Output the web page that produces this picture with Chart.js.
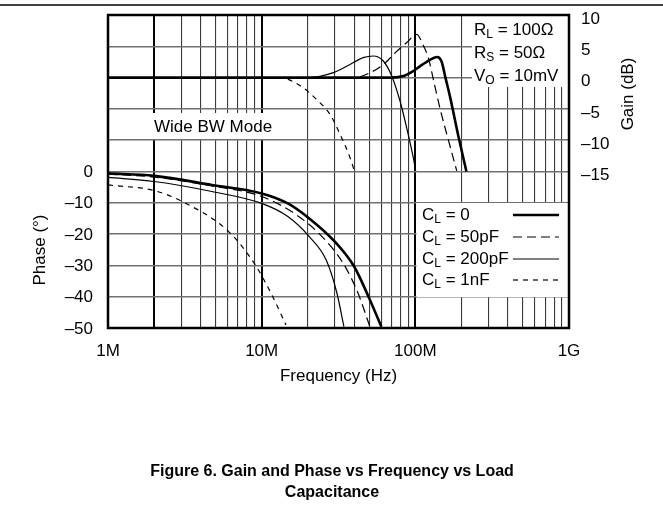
<!DOCTYPE html>
<html>
<head>
<meta charset="utf-8">
<script src="https://cdn.jsdelivr.net/npm/chart.js@4.4.0/dist/chart.umd.min.js"></script>
<style>
html, body { margin: 0; padding: 0; background: #fff; }
</style>
</head>
<body>
<canvas id="grafico" width="663" height="522"></canvas>
<script>
// DATOS (frecuencia en MHz)
const freqTicks = [1, 10, 100, 1000];
const freqLabels = ["1M", "10M", "100M", "1G"];
const phaseTicks = [0, -10, -20, -30, -40, -50];
const gainTicks = [10, 5, 0, -5, -10, -15];

// Ganancia (dB)
const gainFreq0 = [1, 30, 70, 85, 95, 107, 124, 139, 148, 157, 168, 190, 215];
const gain0 = [0, 0, 0, 0.3, 0.9, 1.8, 2.8, 3.3, 2.6, 0, -3, -9.2, -15];
const gainFreq50p = [1, 40, 50, 62, 75, 88, 102, 112, 122, 131, 145, 165, 186];
const gain50p = [0, 0, 0.7, 2.1, 4.1, 5.6, 6.9, 5.3, 3.0, -0.3, -5, -10.2, -14.9];
const gainFreq200p = [1, 20, 29.3, 37.6, 45.8, 53.3, 61.9, 70.2, 79.4, 87.8, 97, 100.5];
const gain200p = [0, 0, 0.8, 2.1, 3.2, 3.45, 2.65, 0.26, -3.7, -8, -12.8, -14.9];
const gainFreq1n = [1, 13.2, 17.8, 22.8, 27.9, 32.3, 37.6, 40.1];
const gain1n = [0, 0, -1.3, -3.5, -5.9, -9, -12.8, -14.9];

// Fase (grados)
const phaseFreq0 = [1, 2, 4.74, 10, 14.8, 20.4, 29.9, 39.8, 49.6, 60.1];
const phase0 = [-0.6, -1.4, -4.3, -7, -10.2, -15, -22.4, -30.2, -40, -49.6];
const phaseFreq50p = [1, 2, 4.74, 10, 16.9, 24.7, 33.9, 42.4, 50.6];
const phase50p = [-0.8, -1.8, -4.6, -8, -13.9, -20.8, -29.3, -38.9, -49.6];
const phaseFreq200p = [1, 2, 4.74, 10, 14.8, 20.4, 26.3, 30.9, 34.3];
const phase200p = [-1.9, -3.2, -6.4, -10.2, -14.4, -20.8, -28.3, -38.9, -49.6];
const phaseFreq1n = [1, 2, 3.04, 6.1, 8.94, 11.5, 14.4];
const phase1n = [-4.3, -6.1, -9.6, -19.2, -29.3, -38.9, -49];

const legendNames = ["0", "50pF", "200pF", "1nF"];

var FAM = "'Liberation Sans', Arial, sans-serif";
var F17 = "17px " + FAM;

// estilos de línea por serie: grueso, guiones largos, fino, guiones cortos
var estilos = [
    { width: 2.6, dash: [] },
    { width: 1.2, dash: [9, 5] },
    { width: 1.2, dash: [] },
    { width: 1.2, dash: [5, 5] }
];

function pts(fs, vs) {
    return fs.map(function (f, i) { return { x: f, y: vs[i] }; });
}

function serie(fs, vs, eje, n) {
    return {
        data: pts(fs, vs),
        yAxisID: eje,
        borderColor: "#000",
        borderWidth: estilos[n].width,
        borderDash: estilos[n].dash,
        pointRadius: 0,
        fill: false,
        cubicInterpolationMode: "monotone"
    };
}

function dash(v) {
    return v < 0 ? "\u2013" + Math.abs(v) : String(v);
}

// sin relleno extra de las etiquetas, el área queda donde se pide
function fijaEje(ancho) {
    return function (s) {
        s.width = ancho;
        s.paddingTop = 0;
        s.paddingBottom = 0;
    };
}

// texto con subíndice (C_L, R_S ...)
function textSub(ctx, x, y, main, sub, rest) {
    ctx.font = F17;
    ctx.fillText(main, x, y);
    x += ctx.measureText(main).width;
    ctx.font = "12px " + FAM;
    ctx.fillText(sub, x, y + 5);
    x += ctx.measureText(sub).width;
    ctx.font = F17;
    ctx.fillText(rest, x, y);
    return x + ctx.measureText(rest).width;
}

// cajas blancas sobre la rejilla
var cajas = {
    id: "cajas",
    beforeDatasetsDraw: function (chart) {
        var ctx = chart.ctx;
        ctx.save();
        ctx.fillStyle = "#fff";
        ctx.fillRect(472, 16, 96, 71);     // R_L, R_S, V_O
        ctx.fillRect(150, 113, 132, 26);   // Wide BW Mode
        ctx.fillRect(416.5, 203, 151.5, 94); // leyenda
        ctx.restore();
    },
    afterDraw: function (chart) {
        var ctx = chart.ctx;
        var a = chart.chartArea;
        ctx.save();
        // marco
        ctx.strokeStyle = "#000";
        ctx.lineWidth = 2.5;
        ctx.strokeRect(a.left, a.top, a.right - a.left, a.bottom - a.top);
        // línea superior de la página
        ctx.lineWidth = 1.5;
        ctx.beginPath();
        ctx.moveTo(0, 5);
        ctx.lineTo(663, 5);
        ctx.stroke();

        ctx.fillStyle = "#000";
        ctx.textBaseline = "middle";
        ctx.textAlign = "left";
        ctx.font = F17;
        ctx.fillText("Wide BW Mode", 154, 127);

        textSub(ctx, 474, 30, "R", "L", " = 100\u03A9");
        textSub(ctx, 474, 53, "R", "S", " = 50\u03A9");
        textSub(ctx, 474, 76, "V", "O", " = 10mV");

        // leyenda
        var filas = [215, 237, 259, 280];
        for (var i = 0; i < 4; i++) {
            textSub(ctx, 422, filas[i], "C", "L", " = " + legendNames[i]);
            ctx.lineWidth = estilos[i].width;
            ctx.setLineDash(estilos[i].dash);
            ctx.beginPath();
            ctx.moveTo(513, filas[i]);
            ctx.lineTo(559, filas[i]);
            ctx.stroke();
        }
        ctx.setLineDash([]);

        // títulos de ejes
        ctx.textAlign = "center";
        ctx.font = F17;
        ctx.fillText("Frequency (Hz)", (a.left + a.right) / 2, 376);
        ctx.save();
        ctx.translate(40, 250);
        ctx.rotate(-Math.PI / 2);
        ctx.fillText("Phase (\u00B0)", 0, 0);
        ctx.restore();
        ctx.save();
        ctx.translate(628, 94);
        ctx.rotate(-Math.PI / 2);
        ctx.fillText("Gain (dB)", 0, 0);
        ctx.restore();

        ctx.font = "bold 16px " + FAM;
        ctx.fillText("Figure 6. Gain and Phase vs Frequency vs Load", 332, 472);
        ctx.fillText("Capacitance", 332, 493);
        ctx.restore();
    }
};

var config = {
    type: "line",
    data: {
        datasets: [
            serie(gainFreq0, gain0, "yG", 0),
            serie(gainFreq50p, gain50p, "yG", 1),
            serie(gainFreq200p, gain200p, "yG", 2),
            serie(gainFreq1n, gain1n, "yG", 3),
            serie(phaseFreq0, phase0, "yP", 0),
            serie(phaseFreq50p, phase50p, "yP", 1),
            serie(phaseFreq200p, phase200p, "yP", 2),
            serie(phaseFreq1n, phase1n, "yP", 3)
        ]
    },
    options: {
        responsive: false,
        animation: false,
        layout: { padding: { top: 15, left: 0, right: 0, bottom: 134 } },
        plugins: { legend: { display: false }, tooltip: { enabled: false } },
        scales: {
            x: {
                type: "logarithmic",
                min: 1,
                max: 1000,
                afterBuildTicks: function (scale) {
                    var t = [];
                    var d, k;
                    for (d = 1; d < 1000; d *= 10) {
                        for (k = 1; k < 10; k++) {
                            t.push({ value: d * k });
                        }
                    }
                    t.push({ value: 1000 });
                    scale.ticks = t;
                },
                afterFit: function (s) {
                    s.height = 60;
                    s.paddingLeft = 0;
                    s.paddingRight = 0;
                },
                border: { display: false },
                grid: {
                    drawTicks: false,
                    color: function (c) {
                        var v = c.tick ? c.tick.value : 0;
                        return (freqTicks.indexOf(v) >= 0 || v === 2) ? "#000" : "#3a3a3a";
                    },
                    lineWidth: function (c) {
                        var v = c.tick ? c.tick.value : 0;
                        return (freqTicks.indexOf(v) >= 0 || v === 2) ? 2 : 1.1;
                    }
                },
                ticks: {
                    autoSkip: false,
                    maxRotation: 0,
                    padding: 13,
                    color: "#000",
                    font: { family: FAM, size: 17 },
                    callback: function (v) {
                        var i = freqTicks.indexOf(v);
                        return i >= 0 ? freqLabels[i] : "";
                    }
                }
            },
            yP: {
                position: "left",
                min: -50,
                max: 50,
                afterFit: fijaEje(108),
                border: { display: false },
                grid: { drawTicks: false, color: "#707070", lineWidth: 1.6 },
                ticks: {
                    stepSize: 10,
                    padding: 15,
                    labelOffset: 1,
                    color: "#000",
                    font: { family: FAM, size: 17 },
                    callback: function (v) {
                        return phaseTicks.indexOf(v) >= 0 ? dash(v) : "";
                    }
                }
            },
            yG: {
                position: "right",
                min: -40,
                max: 10,
                afterFit: fijaEje(94),
                border: { display: false },
                grid: { display: false, drawTicks: false },
                ticks: {
                    stepSize: 5,
                    padding: 12,
                    labelOffset: 4,
                    color: "#000",
                    font: { family: FAM, size: 17 },
                    callback: function (v) {
                        return gainTicks.indexOf(v) >= 0 ? dash(v) : "";
                    }
                }
            }
        }
    },
    plugins: [cajas]
};

new Chart(document.getElementById("grafico").getContext("2d"), config);
</script>
</body>
</html>
